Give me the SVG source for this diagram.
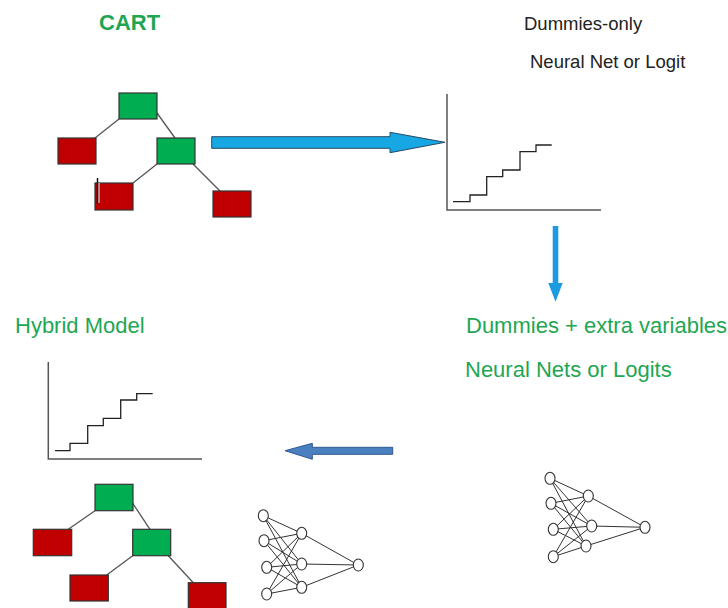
<svg xmlns="http://www.w3.org/2000/svg" width="728" height="608" viewBox="0 0 728 608">
<style>
.g{fill:#00ad50;stroke:#333;stroke-width:1.2}
.r{fill:#c00000;stroke:#333;stroke-width:1.2}
.e{stroke:#555;stroke-width:1.3;fill:none}
.ax{stroke:#555;stroke-width:1.5;fill:none}
.st{stroke:#222;stroke-width:1.3;fill:none}
.n{fill:#fff;stroke:#333;stroke-width:1.1}
.w{stroke:#333;stroke-width:1;fill:none}
.t{font-family:"Liberation Sans",Arial,sans-serif}
.tg{fill:#1fa653;font-size:22px}
.tb{fill:#222;font-size:18.5px}
</style>
<rect width="728" height="608" fill="#fff"/>
<g id="title-cart"><text class="t tg" x="99" y="30" font-weight="bold">CART</text></g>
<g id="title-dummies"><text class="t tb" x="524" y="30">Dummies-only</text><text class="t tb" x="530" y="68">Neural Net or Logit</text></g>
<g id="title-extra"><text class="t tg" x="466" y="333">Dummies + extra variables</text><text class="t tg" x="465" y="377">Neural Nets or Logits</text></g>
<g id="title-hybrid"><text class="t tg" x="15" y="333">Hybrid Model</text></g>

<g id="tree-top">
<line class="e" x1="119" y1="119" x2="95" y2="138"/>
<line class="e" x1="157" y1="113" x2="175" y2="138"/>
<line class="e" x1="157" y1="164" x2="133" y2="183"/>
<line class="e" x1="193" y1="164" x2="220" y2="191"/>
<rect class="g" x="119" y="93" width="38" height="26"/>
<rect class="r" x="58" y="138" width="38" height="26"/>
<rect class="g" x="157" y="138" width="38" height="26"/>
<rect class="r" x="95" y="183" width="38" height="27"/>
<rect class="r" x="213" y="191" width="38" height="26"/>
<line x1="97.5" y1="178" x2="97.5" y2="204" stroke="#111" stroke-width="1.5"/>
<line x1="99" y1="183" x2="99" y2="203" stroke="#ccc" stroke-width="1.3"/>
</g>

<g id="chart-top">
<polyline class="ax" points="447,94 447,210 601,210"/>
<polyline class="st" points="453,201.7 470,201.7 470,195 486.7,195 486.7,176.7 502.7,176.7 502.7,170 520,170 520,151.7 536,151.7 536,145 551.7,145"/>
</g>

<g id="chart-bottom">
<polyline class="ax" points="48.3,362 48.3,459 202,459"/>
<polyline class="st" points="55,450.7 70,450.7 70,443.3 87.7,443.3 87.7,425.7 103.3,425.7 103.3,418.3 120.7,418.3 120.7,400 136.7,400 136.7,393.7 152.7,393.7"/>
</g>

<g id="tree-bottom">
<line class="e" x1="95" y1="510.7" x2="68.3" y2="529.3"/>
<line class="e" x1="132.7" y1="503.3" x2="150" y2="529.3"/>
<line class="e" x1="132.7" y1="555.7" x2="106.7" y2="575"/>
<line class="e" x1="168.3" y1="555.7" x2="193.3" y2="582.7"/>
<rect class="g" x="95" y="484.3" width="38" height="26.4"/>
<rect class="r" x="33.3" y="529.3" width="38.4" height="26.4"/>
<rect class="g" x="132.7" y="529.3" width="38" height="26.4"/>
<rect class="r" x="70" y="575" width="38.3" height="26"/>
<rect class="r" x="188.3" y="582.7" width="37.7" height="26"/>
</g>

<g id="nn-bottom">
<g class="w">
<path d="M263.3,515.7L301.7,533.3M263.3,515.7L301.7,564M263.3,515.7L301.7,587.3"/>
<path d="M264,540.7L301.7,533.3M264,540.7L301.7,564M264,540.7L301.7,587.3"/>
<path d="M266.7,567.3L301.7,533.3M266.7,567.3L301.7,564M266.7,567.3L301.7,587.3"/>
<path d="M266.7,594L301.7,533.3M266.7,594L301.7,564M266.7,594L301.7,587.3"/>
<path d="M301.7,533.3L358.3,565M301.7,564L358.3,565M301.7,587.3L358.3,565"/>
</g>
<ellipse class="n" cx="263.3" cy="515.7" rx="5" ry="6"/>
<ellipse class="n" cx="264" cy="540.7" rx="5" ry="6"/>
<ellipse class="n" cx="266.7" cy="567.3" rx="5" ry="6"/>
<ellipse class="n" cx="266.7" cy="594" rx="5" ry="6"/>
<ellipse class="n" cx="301.7" cy="533.3" rx="5" ry="6"/>
<ellipse class="n" cx="301.7" cy="564" rx="5" ry="6"/>
<ellipse class="n" cx="301.7" cy="587.3" rx="5" ry="6"/>
<ellipse class="n" cx="358.3" cy="565" rx="5" ry="6"/>
</g>

<g id="nn-right">
<g class="w">
<path d="M550,478.3L588.3,496M550,478.3L591.7,526M550,478.3L586,546"/>
<path d="M551,503.3L588.3,496M551,503.3L591.7,526M551,503.3L586,546"/>
<path d="M553.3,529.3L588.3,496M553.3,529.3L591.7,526M553.3,529.3L586,546"/>
<path d="M553.3,556.7L588.3,496M553.3,556.7L591.7,526M553.3,556.7L586,546"/>
<path d="M588.3,496L645,527.3M591.7,526L645,527.3M586,546L645,527.3"/>
</g>
<ellipse class="n" cx="550" cy="478.3" rx="5" ry="6"/>
<ellipse class="n" cx="551" cy="503.3" rx="5" ry="6"/>
<ellipse class="n" cx="553.3" cy="529.3" rx="5" ry="6"/>
<ellipse class="n" cx="553.3" cy="556.7" rx="5" ry="6"/>
<ellipse class="n" cx="588.3" cy="496" rx="5" ry="6"/>
<ellipse class="n" cx="591.7" cy="526" rx="5" ry="6"/>
<ellipse class="n" cx="586" cy="546" rx="5" ry="6"/>
<ellipse class="n" cx="645" cy="527.3" rx="5" ry="6"/>
</g>

<g id="connectors">
<polygon points="211.7,136.7 390,136.7 390,132.3 445,142.3 390,152.7 390,148.3 211.7,148.3" fill="#17a7e3" stroke="#2a4a66" stroke-width="1"/>
<polygon points="552.7,226 558.3,226 558.3,283 562.7,283 555.5,301.7 548.3,283 552.7,283" fill="#1c9be0"/>
<polygon points="392.7,447.3 312.3,447.3 312.3,443.3 285,450.7 312.3,459.3 312.3,454.3 392.7,454.3" fill="#4a7fc0" stroke="#2f5a8f" stroke-width="1"/>
</g>
</svg>
